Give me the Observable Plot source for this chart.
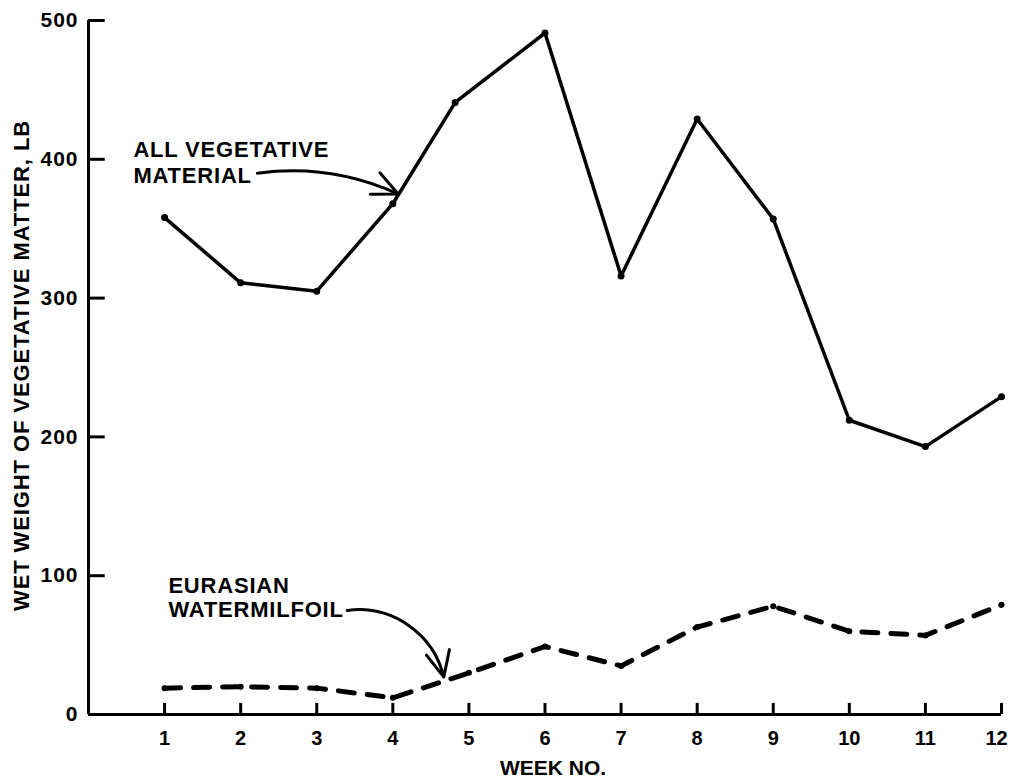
<!DOCTYPE html>
<html>
<head>
<meta charset="utf-8">
<script src="https://cdn.jsdelivr.net/npm/d3@7"></script>
<script src="https://cdn.jsdelivr.net/npm/@observablehq/plot@0.6"></script>
<style>
  html, body { margin: 0; padding: 0; background: #fff; }
</style>
</head>
<body>
<div id="chart"></div>
<script>
const weeks = [1, 2, 3, 4, 5, 6, 7, 8, 9, 10, 11, 12];
const allVegWeekPos = [1, 2, 3, 4, 4.82, 6, 7, 8, 9, 10, 11, 12];
const allVegetative = [358, 311, 305, 368, 441, 491, 316, 429, 357, 212, 193, 229];
const milfoil = [19, 20, 19, 12, 30, 49, 35, 63, 78, 60, 57, 79];
const yTicks = [0, 100, 200, 300, 400, 500];
const xTicks = weeks;
const yLabel = "WET WEIGHT OF VEGETATIVE MATTER, LB";
const xLabel = "WEEK NO.";
const vegLabel = ["ALL VEGETATIVE", "MATERIAL"];
const milLabel = ["EURASIAN", "WATERMILFOIL"];

const vegData = allVegetative.map((v, i) => ({week: allVegWeekPos[i], value: v}));
const milData = milfoil.map((v, i) => ({week: weeks[i], value: v}));

const annotations = [
  {x: 0.59, y: 407, text: vegLabel[0]},
  {x: 0.59, y: 388, text: vegLabel[1]},
  {x: 1.05, y: 92.5, text: milLabel[0]},
  {x: 1.05, y: 75, text: milLabel[1]}
];
const vegArrow = [{x1: 2.22, y1: 390, x2: 4.07, y2: 375}];
const milArrow = [{x1: 3.40, y1: 75, x2: 4.67, y2: 27}];

const chart = Plot.plot({
  width: 1010,
  height: 780,
  marginLeft: 88,
  marginRight: 9,
  marginTop: 20,
  marginBottom: 66,
  x: {domain: [0, 12]},
  y: {domain: [0, 500]},
  style: {
    fontFamily: "'Liberation Sans', Arial, sans-serif",
    fontWeight: "bold",
    fontSize: "20px",
    color: "#000",
    background: "#fff",
    overflow: "visible"
  },
  marks: [
    Plot.ruleX([0], {y1: 0, y2: 500, strokeWidth: 3, stroke: "#000"}),
    Plot.ruleY([0], {x1: 0, x2: 12, strokeWidth: 3, stroke: "#000"}),
    Plot.ruleY(yTicks.filter(d => d > 0), {x1: 0, x2: 0.22, strokeWidth: 3, stroke: "#000"}),
    Plot.ruleX(xTicks, {y1: 0, y2: 8, strokeWidth: 3, stroke: "#000"}),
    Plot.axisY({ticks: yTicks, tickSize: 0, tickPadding: 10, label: null, fontSize: 21, fontWeight: "bold"}),
    Plot.axisX({ticks: xTicks.filter(d => d < 12), tickSize: 0, tickPadding: 16, label: null, fontSize: 20, fontWeight: "bold"}),
    Plot.axisX({ticks: xTicks.filter(d => d === 12), tickSize: 0, tickPadding: 16, label: null, fontSize: 20, fontWeight: "bold", dx: -5}),
    Plot.text([yLabel], {frameAnchor: "left", textAnchor: "middle", rotate: -90, dx: -67, dy: -2, fontSize: 22, fontWeight: "bold"}),
    Plot.text([xLabel], {frameAnchor: "bottom", textAnchor: "middle", dx: 8, dy: 60, fontSize: 21, fontWeight: "bold"}),
    Plot.line(vegData, {x: "week", y: "value", stroke: "#000", strokeWidth: 3.5, strokeLinejoin: "round"}),
    Plot.dot(vegData, {x: "week", y: "value", r: 3.5, fill: "#000"}),
    Plot.line(milData, {x: "week", y: "value", stroke: "#000", strokeWidth: 5, strokeDasharray: "16,13", strokeLinecap: "round", strokeLinejoin: "round"}),
    Plot.dot(milData, {x: "week", y: "value", r: 3, fill: "#000"}),
    Plot.text(annotations, {x: "x", y: "y", text: "text", textAnchor: "start", lineAnchor: "middle", fontSize: 22, fontWeight: "bold"}),
    Plot.arrow(vegArrow, {x1: "x1", y1: "y1", x2: "x2", y2: "y2", bend: 16, stroke: "#000", strokeWidth: 3, headLength: 14, headAngle: 50}),
    Plot.arrow(milArrow, {x1: "x1", y1: "y1", x2: "x2", y2: "y2", bend: 42, stroke: "#000", strokeWidth: 3, headLength: 14, headAngle: 50})
  ]
});

d3.select(chart).selectAll("text").each(function() {
  const t = this.textContent;
  if (vegLabel.includes(t) || milLabel.includes(t)) d3.select(this).attr("letter-spacing", "0.8");
  if (t === yLabel) d3.select(this).attr("letter-spacing", "0.9");
});
d3.select(chart).selectAll('g[aria-label="y-axis tick label"] text').attr("letter-spacing", "1");

document.getElementById("chart").appendChild(chart);
</script>
</body>
</html>
